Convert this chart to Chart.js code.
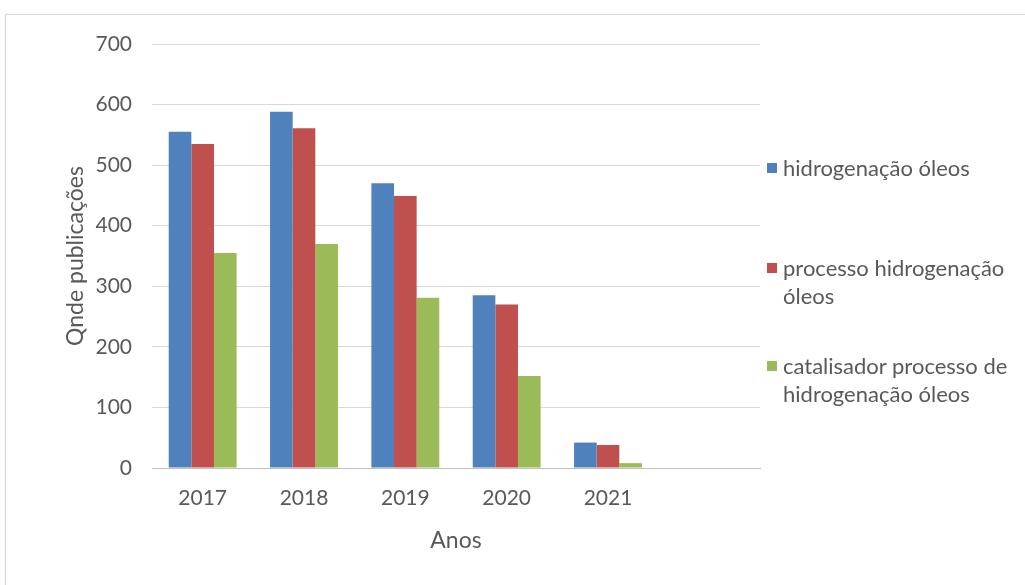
<!DOCTYPE html>
<html>
<head>
<meta charset="utf-8">
<script src="https://cdn.jsdelivr.net/npm/chart.js@4/dist/chart.umd.min.js"></script>
<style>
    body { margin: 0; background: #fff; font-family: Lato, "Open Sans", sans-serif; }
    #frame { position: absolute; left: 5px; top: 14px; width: 1100px; height: 700px; border: 1px solid #d9d9d9; box-shadow: 0 0 2px #e6e6e6; }
    #wrap { position: absolute; left: 0; top: 0; width: 800px; height: 585px; }
    #legend { position: absolute; left: 767px; top: 0; width: 258px; color: #595959; font-size: 22px; line-height: 28px; white-space: nowrap; }
    .item { position: absolute; left: 0; padding-left: 16px; }
    .box { position: absolute; left: 0; top: 9px; width: 10px; height: 10px; }
</style>
</head>
<body>
<div id="frame"></div>
<div id="wrap"><canvas id="chart"></canvas></div>
<div id="legend"></div>
<script>
document.addEventListener('DOMContentLoaded', function () {
    // categories and series
    const years = ['2017', '2018', '2019', '2020', '2021', ''];
    const hidrogenacao = [555, 588, 470, 285, 42];
    const processo = [535, 561, 449, 270, 38];
    const catalisador = [355, 370, 281, 152, 8];
    const seriesNames = [
        'hidrogenação óleos',
        'processo hidrogenação óleos',
        'catalisador processo de hidrogenação óleos'
    ];
    const seriesColors = ['#4F81BD', '#C0504D', '#9BBB59'];
    const yTicks = [0, 100, 200, 300, 400, 500, 600, 700];

    const seriesData = [hidrogenacao, processo, catalisador];

    // legend built as html so the long names can wrap like the original
    const legendBox = document.getElementById('legend');
    const legendTops = [154, 254, 352];
    const legendLines = [
        ['hidrogenação óleos'],
        ['processo hidrogenação', 'óleos'],
        ['catalisador processo de', 'hidrogenação óleos']
    ];
    seriesNames.forEach(function (name, i) {
        const item = document.createElement('div');
        item.className = 'item';
        item.style.top = legendTops[i] + 'px';
        item.innerHTML = '<span class="box" style="background:' + seriesColors[i] + '"></span>' +
            legendLines[i].join('<br>');
        legendBox.appendChild(item);
    });

    const ctx = document.getElementById('chart').getContext('2d');
    new Chart(ctx, {
        type: 'bar',
        data: {
            labels: years,
            datasets: seriesData.map(function (values, i) {
                return {
                    label: seriesNames[i],
                    data: values,
                    backgroundColor: seriesColors[i],
                    borderWidth: 0,
                    categoryPercentage: 0.67,
                    barPercentage: 1
                };
            })
        },
        options: {
            responsive: true,
            maintainAspectRatio: false,
            animation: false,
            layout: { padding: { left: 62, right: 40, top: 44, bottom: 27 } },
            plugins: {
                legend: { display: false },
                tooltip: { enabled: false }
            },
            scales: {
                x: {
                    grid: { display: false },
                    border: { color: '#bfbfbf' },
                    ticks: { color: '#595959', font: { family: 'Lato', size: 21 }, padding: 10 },
                    title: { display: true, text: 'Anos', color: '#595959', font: { family: 'Lato', size: 23 } },
                    afterFit: function (scale) { scale.height = 90; }
                },
                y: {
                    min: 0,
                    max: 700,
                    afterBuildTicks: function (scale) {
                        scale.ticks = yTicks.map(function (v) { return { value: v }; });
                    },
                    grid: { color: '#d9d9d9', drawTicks: false },
                    border: { display: false },
                    ticks: { color: '#595959', font: { family: 'Lato', size: 21 }, padding: 20 },
                    title: { display: true, text: 'Qnde publicações', color: '#595959', font: { family: 'Lato', size: 23 }, padding: 0 },
                    afterFit: function (scale) { scale.width = 90; }
                }
            }
        }
    });
});
</script>
</body>
</html>
